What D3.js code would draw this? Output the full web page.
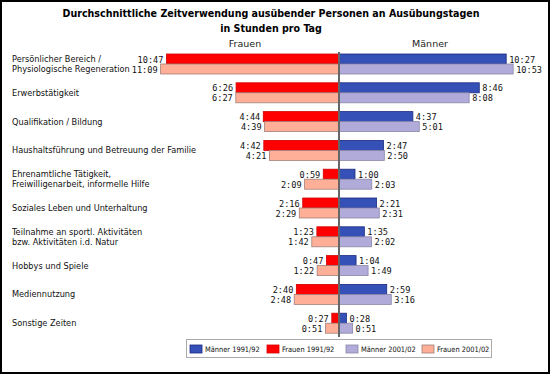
<!DOCTYPE html>
<html>
<head>
<meta charset="utf-8">
<script src="https://cdn.jsdelivr.net/npm/d3@7"></script>
<style>
body { margin: 0; background: #fff; }
svg { display: block; }
.cat { font-family: "DejaVu Sans", Verdana, sans-serif; font-size: 8.2px; fill: #111; }
.val { font-family: "DejaVu Sans Mono", monospace; font-size: 8.6px; fill: #111; }
.title { font-family: "DejaVu Sans Condensed", "DejaVu Sans", sans-serif; font-stretch: condensed; font-size: 10.6px; font-weight: bold; fill: #000; }
.head { font-family: "DejaVu Sans", Verdana, sans-serif; font-size: 9.5px; fill: #222; }
.leg { font-family: "DejaVu Sans Condensed", "DejaVu Sans", sans-serif; font-stretch: condensed; font-size: 7.4px; fill: #111; }
</style>
</head>
<body>
<svg id="chart" width="550" height="374"></svg>
<script>
var categories = [
  ["Persönlicher Bereich /", "Physiologische Regeneration"],
  ["Erwerbstätigkeit"],
  ["Qualifikation / Bildung"],
  ["Haushaltsführung und Betreuung der Familie"],
  ["Ehrenamtliche Tätigkeit,", "Freiwilligenarbeit, informelle Hilfe"],
  ["Soziales Leben und Unterhaltung"],
  ["Teilnahme an sportl. Aktivitäten", "bzw. Aktivitäten i.d. Natur"],
  ["Hobbys und Spiele"],
  ["Mediennutzung"],
  ["Sonstige Zeiten"]
];
var maenner1991 = ["10:27","8:46","4:37","2:47","1:00","2:21","1:35","1:04","2:59","0:28"];
var frauen1991  = ["10:47","6:26","4:44","4:42","0:59","2:16","1:23","0:47","2:40","0:27"];
var maenner2001 = ["10:53","8:08","5:01","2:50","2:03","2:31","2:02","1:49","3:16","0:51"];
var frauen2001  = ["11:09","6:27","4:39","4:21","2:09","2:29","1:42","1:22","2:48","0:51"];
var seriesNames = ["Männer 1991/92","Frauen 1991/92","Männer 2001/02","Frauen 2001/02"];
var seriesColors = ["#3550b6","#ff0000","#b0abd8","#ffaf98"];
var seriesStroke = ["#1c2a80","#d00000","#8a88a8","#a08078"];

function toMin(s){ var p = s.split(":"); return +p[0]*60 + +p[1]; }

var svg = d3.select("#chart");

// frame
svg.append("rect").attr("x",1).attr("y",1).attr("width",548).attr("height",372)
  .attr("fill","#fff").attr("stroke","#000").attr("stroke-width",2);

svg.append("text").attr("class","title").attr("x",271).attr("y",17)
  .attr("text-anchor","middle").text("Durchschnittliche Zeitverwendung ausübender Personen an Ausübungstagen");
svg.append("text").attr("class","title").attr("x",271).attr("y",32)
  .attr("text-anchor","middle").text("in Stunden pro Tag");

var cx = 339;
var xR = d3.scaleLinear().domain([0,720]).range([cx, cx+192]);
var xL = d3.scaleLinear().domain([0,720]).range([cx, cx-192]);
var y = d3.scaleBand().domain(d3.range(categories.length)).range([50, 338]);

svg.append("text").attr("class","head").attr("x",245).attr("y",47).attr("text-anchor","middle").text("Frauen");
svg.append("text").attr("class","head").attr("x",430).attr("y",47).attr("text-anchor","middle").text("Männer");

// category labels
var cat = svg.selectAll(".catg").data(categories).enter().append("text")
  .attr("class","cat")
  .attr("x",12)
  .attr("y", function(d,i){ return y(i) + 14 - (d.length-1)*5 + 3; });
cat.selectAll("tspan").data(function(d){ return d; }).enter().append("tspan")
  .attr("x",12).attr("dy", function(d,i){ return i ? 10 : 0; })
  .text(function(d){ return d; });

function drawBars(vals, side, off, k){
  var sc = side < 0 ? xL : xR;
  var g = svg.append("g");
  g.selectAll("rect").data(vals).enter().append("rect")
    .attr("x", function(d){ return side < 0 ? sc(toMin(d)) : cx; })
    .attr("y", function(d,i){ return y(i) + off; })
    .attr("width", function(d){ return Math.abs(sc(toMin(d)) - cx); })
    .attr("height", 10)
    .attr("fill", seriesColors[k])
    .attr("stroke", seriesStroke[k]).attr("stroke-width",0.8);
  g.selectAll("text").data(vals).enter().append("text")
    .attr("class","val")
    .attr("x", function(d){ return sc(toMin(d)) + side*3; })
    .attr("y", function(d,i){ return y(i) + off + 8.5; })
    .attr("text-anchor", side < 0 ? "end" : "start")
    .text(function(d){ return d; });
}
drawBars(frauen1991, -1, 4, 1);
drawBars(frauen2001, -1, 14, 3);
drawBars(maenner1991, 1, 4, 0);
drawBars(maenner2001, 1, 14, 2);

svg.append("line").attr("x1",cx).attr("x2",cx).attr("y1",52).attr("y2",337)
  .attr("stroke","#666").attr("stroke-width",2);

// legend
var lg = svg.append("g");
lg.append("rect").attr("x",186.5).attr("y",339.5).attr("width",305).attr("height",18)
  .attr("fill","#fff").attr("stroke","#aaa");
var legX = [190, 267, 346, 422];
var it = lg.selectAll(".it").data(seriesNames).enter().append("g");
it.append("rect").attr("x", function(d,i){ return legX[i]; }).attr("y",345)
  .attr("width",12).attr("height",8)
  .attr("fill", function(d,i){ return seriesColors[i]; })
  .attr("stroke", function(d,i){ return seriesStroke[i]; }).attr("stroke-width",0.8);
it.append("text").attr("class","leg").attr("x", function(d,i){ return legX[i] + 15; }).attr("y",352)
  .text(function(d){ return d; });
</script>
</body>
</html>
